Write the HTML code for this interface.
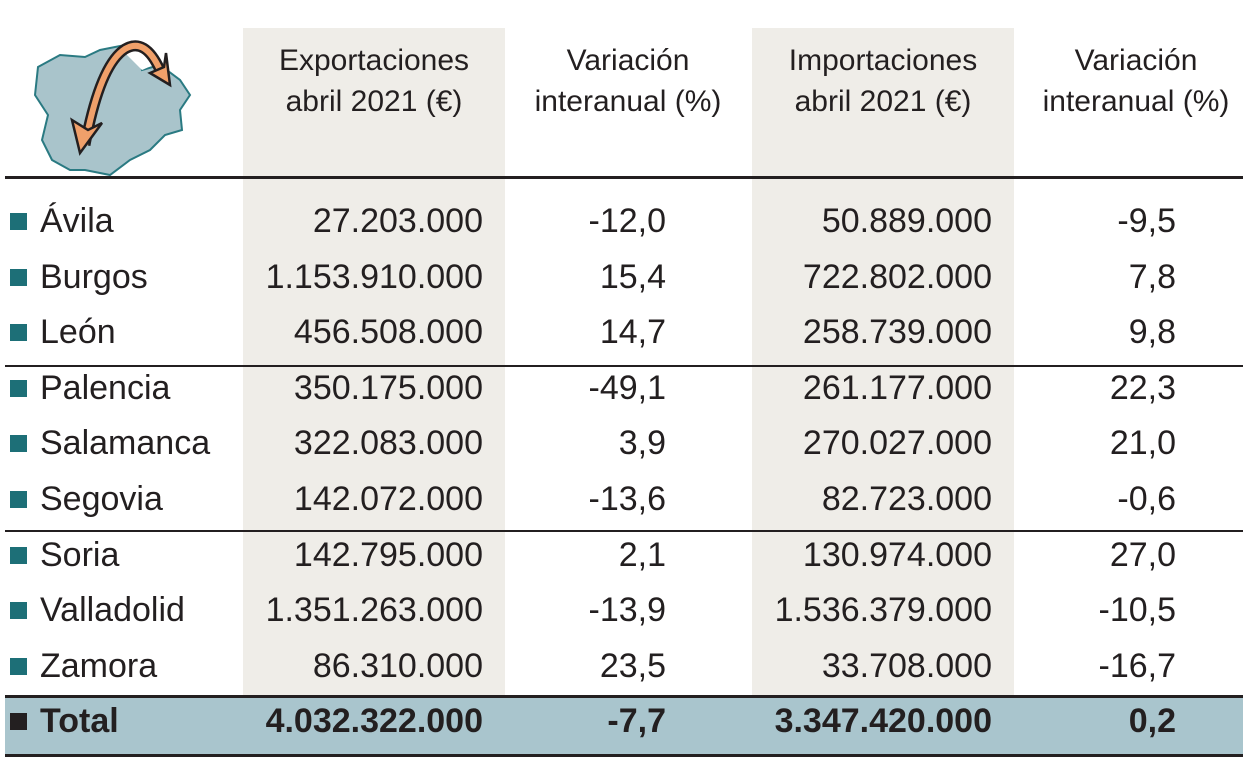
<!DOCTYPE html>
<html><head><meta charset="utf-8"><style>
body{margin:0;width:1248px;height:770px;background:#fff;position:relative;overflow:hidden;font-family:"Liberation Sans",sans-serif;color:#231f20}
.abs{position:absolute}
.shade{background:#efede8;top:28px;height:669px}
.hdr{font-size:30px;line-height:41px;text-align:center;top:40px;width:262px}
.line{left:5px;width:1238px;background:#231f20}
.cell{font-size:34px;line-height:40px;white-space:nowrap}
.r{text-align:right}
.sq{width:17px;height:17px;background:#1d6f77}
</style></head><body>
<div class="abs shade" style="left:243px;width:262px"></div>
<div class="abs shade" style="left:752px;width:262px"></div>
<svg class="abs" style="left:30px;top:35px" width="170" height="145">
<path d="M8,32 L30,20 L55,22 L70,15 L95,10 L108,15 L112,35 L130,30 L150,45 L160,60 L150,75 L152,95 L135,100 L120,115 L100,125 L80,140 L55,135 L40,135 L22,125 L12,105 L18,80 L5,60 Z" fill="#a9c4cb" stroke="#2a7a82" stroke-width="2"/>
<path d="M95,18 Q110,5 120,10 L128,28 L112,35 Z" fill="#fff"/>
<path d="M55,110 Q70,30 95,14 Q115,2 130,35" fill="none" stroke="#231f20" stroke-width="11"/>
<path d="M55,110 Q70,30 95,14 Q115,2 130,35" fill="none" stroke="#f0a06a" stroke-width="6"/>
<polygon points="50,118 42,85 58,95 72,88" fill="#f0a06a" stroke="#231f20" stroke-width="2.5"/>
<polygon points="140,50 120,38 134,32 136,18" fill="#f0a06a" stroke="#231f20" stroke-width="2.5"/>
</svg>
<div class="abs hdr" style="left:243px">Exportaciones<br>abril 2021 (€)</div>
<div class="abs hdr" style="left:497px">Variación<br>interanual (%)</div>
<div class="abs hdr" style="left:752px">Importaciones<br>abril 2021 (€)</div>
<div class="abs hdr" style="left:1005px">Variación<br>interanual (%)</div>
<div class="abs" style="left:5px;top:697px;width:1238px;height:58px;background:#a9c5cd"></div>
<div class="abs line" style="top:176px;height:3px"></div>
<div class="abs line" style="top:365px;height:2px"></div>
<div class="abs line" style="top:530px;height:2px"></div>
<div class="abs line" style="top:695px;height:3px"></div>
<div class="abs line" style="top:754px;height:3px"></div>
<div id="rows"></div>
<script>
const names=["Ávila","Burgos","León","Palencia","Salamanca","Segovia","Soria","Valladolid","Zamora","Total"];
const exportsVals=["27.203.000","1.153.910.000","456.508.000","350.175.000","322.083.000","142.072.000","142.795.000","1.351.263.000","86.310.000","4.032.322.000"];
const exportVar=["-12,0","15,4","14,7","-49,1","3,9","-13,6","2,1","-13,9","23,5","-7,7"];
const importsVals=["50.889.000","722.802.000","258.739.000","261.177.000","270.027.000","82.723.000","130.974.000","1.536.379.000","33.708.000","3.347.420.000"];
const importVar=["-9,5","7,8","9,8","22,3","21,0","-0,6","27,0","-10,5","-16,7","0,2"];
const host=document.getElementById('rows');
names.forEach((n,i)=>{
  const cy=222+i*55.6;
  const bold=i===names.length-1;
  const sq=document.createElement('div');
  sq.className='abs sq';
  sq.style.left='10px';sq.style.top=(cy-9)+'px';
  if(bold)sq.style.background='#231f20';
  
  
  host.appendChild(sq);
  const cols=[[n,40,null],[exportsVals[i],null,483],[exportVar[i],null,666],[importsVals[i],null,992],[importVar[i],null,1176]];
  cols.forEach((c,j)=>{
    const d=document.createElement('div');
    d.className='abs cell';
    d.textContent=c[0];
    d.style.top=(cy-21)+'px';
    if(bold)d.style.fontWeight='bold';
    if(c[1]!==null){d.style.left=c[1]+'px';}
    else{d.style.right=(1248-c[2])+'px';}
    
    
    host.appendChild(d);
  });
});
</script>
</body></html>
